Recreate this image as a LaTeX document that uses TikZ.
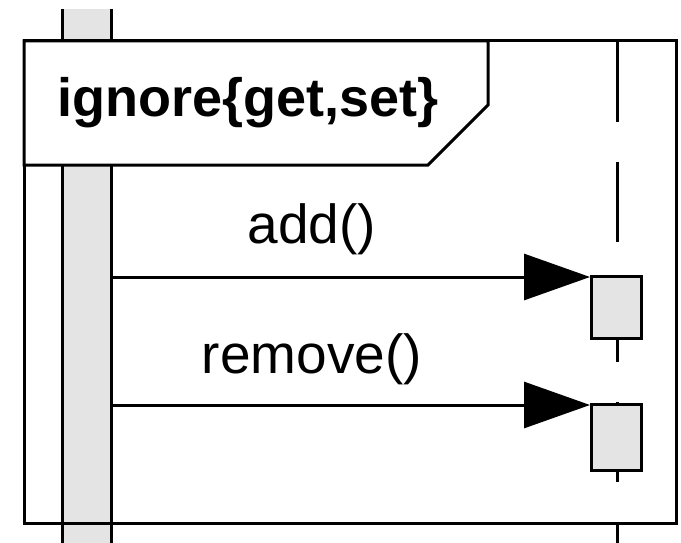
\documentclass[tikz,border=0pt]{standalone}
\usepackage{fontspec}
\setmainfont{Liberation Sans}
\usetikzlibrary{arrows.meta}
\definecolor{actgray}{HTML}{E4E4E4}
\tikzset{
  ln/.style={line width=3pt, black},
  actbox/.style={draw=black, line width=3pt, fill=actgray, rectangle, inner sep=0pt,
    minimum width=50pt, minimum height=62pt},
  msg/.style={ln, -{Triangle[length=66pt,width=46pt]}},
  msglabel/.style={anchor=base, font=\fontsize{55}{60}\selectfont, inner sep=0pt},
  lifeline/.style={ln, dash pattern=on 80pt off 40pt},
}
\begin{document}
\begin{tikzpicture}[x=1pt,y=-1pt]
\useasboundingbox (0,0) rectangle (681,543);
% left activation bar
\fill[actgray] (62,9) rectangle (111,543);
\draw[ln] (62,9) -- (62,543);
\draw[ln] (111,9) -- (111,543);
% right lifeline
\coordinate (lltop) at (617,42);
\coordinate (llbot) at (617,543);
\draw[lifeline] (lltop) -- (llbot);
% frame
\draw[ln] (24,41) rectangle (676,523);
\draw[ln, fill=white] (24,41) -- (488,41) -- (488,105) -- (428,165) -- (24,165) -- cycle;
\node[anchor=base west, inner sep=0pt, font=\fontsize{54}{60}\selectfont\bfseries] (title) at (57,117) {ignore\{get,set\}};
% activations
\node[actbox, anchor=north west] (act1) at (590,275) {};
\node[actbox, anchor=north west, minimum height=66pt] (act2) at (590,403) {};
% messages
\coordinate (s1) at (111,277);
\coordinate (s2) at (111,405);
\draw[msg] (s1) -- (s1 -| act1.west);
\draw[msg] (s2) -- (s2 -| act2.west);
\node[msglabel] (l1) at (312,243) {add()};
\node[msglabel] (l2) at (312,373) {remove()};
\end{tikzpicture}
\end{document}
